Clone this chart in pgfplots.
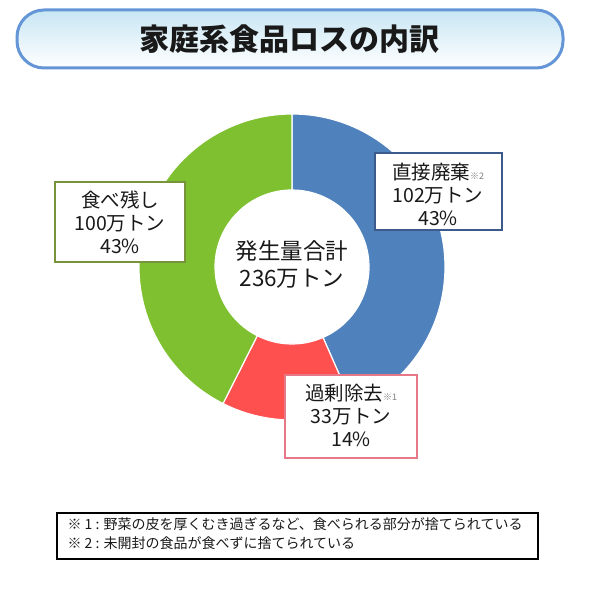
\documentclass[border=0pt]{standalone}
\usepackage{pgfplots}
\pgfplotsset{compat=1.18}
\usepackage{pgfplotstable}
\usepackage{fontspec}
\setmainfont{Noto Sans CJK JP}
\usetikzlibrary{shadings}

\definecolor{cBlue}{RGB}{79,129,189}
\definecolor{cRed}{RGB}{255,80,80}
\definecolor{cGreen}{RGB}{126,192,48}
\definecolor{bBlue}{RGB}{60,90,140}
\definecolor{bPink}{RGB}{232,120,135}
\definecolor{bGreen}{RGB}{119,147,60}
\definecolor{tBorder}{RGB}{100,150,215}
\definecolor{tTop}{RGB}{200,230,244}
\definecolor{txt}{RGB}{25,25,25}

% 直接廃棄, 過剰除去, 食べ残し (万トン)
\pgfplotstableread{
value
102
33
100
}\losstable

% annular sector: start angle, end angle, colour
\newcommand\ring[3]{%
  \fill[#3, draw=white, line width=1.2pt]
    (axis cs:{292+153*cos(#1)},{324+153*sin(#1)})
    arc[start angle=#1, end angle=#2, radius=153pt]
    -- (axis cs:{292+77*cos(#2)},{324+77*sin(#2)})
    arc[start angle=#2, end angle=#1, radius=77pt] -- cycle;}

\begin{document}
\begin{tikzpicture}
\pgfplotstablegetelem{0}{value}\of\losstable \let\va\pgfplotsretval
\pgfplotstablegetelem{1}{value}\of\losstable \let\vb\pgfplotsretval
\pgfplotstablegetelem{2}{value}\of\losstable \let\vc\pgfplotsretval
\pgfmathsetmacro\tot{\va+\vb+\vc}
\pgfmathsetmacro\aA{90}
\pgfmathsetmacro\aB{\aA-360*(\va/\tot)}
\pgfmathsetmacro\aC{\aB-360*(\vb/\tot)}
\pgfmathsetmacro\aD{\aC-360*(\vc/\tot)}
\begin{axis}[
    x=1pt, y=1pt,
    xmin=0, xmax=600, ymin=0, ymax=591,
    disabledatascaling,
    scale only axis,
    hide axis,
    clip=false,
    ]
\addplot[draw=none, forget plot] coordinates {(0,0) (600,591)};
\path (axis cs:0,0) rectangle (axis cs:600,591);

% title
\draw[tBorder, line width=3pt, rounded corners=27pt, top color=tTop, bottom color=white]
  (axis cs:17,523) rectangle (axis cs:563,581);
\node[txt, font=\fontsize{30}{32}\selectfont\bfseries] at (axis cs:289,552) {家庭系食品ロスの内訳};

% donut
\ring{\aA}{\aB}{cBlue}
\ring{\aB}{\aC}{cRed}
\ring{\aC}{\aD}{cGreen}

\node[txt, align=center, font=\fontsize{22.5}{27}\selectfont] at (axis cs:292,327)
  {発生量合計\\236万トン};

% labels
\draw[bBlue, line width=2.5pt, fill=white] (axis cs:375,361) rectangle (axis cs:502,438);
\node[txt, align=center, font=\fontsize{19.5}{23}\selectfont] at (axis cs:438,397)
  {直接廃棄{\fontsize{9}{9}\selectfont\color{gray}※2}\\102万トン\\43\%};

\draw[bPink, line width=2.5pt, fill=white] (axis cs:285,133) rectangle (axis cs:417,216);
\node[txt, align=center, font=\fontsize{19.5}{23}\selectfont] at (axis cs:351,176)
  {過剰除去{\fontsize{9}{9}\selectfont\color{gray}※1}\\33万トン\\14\%};

\draw[bGreen, line width=2.5pt, fill=white] (axis cs:55,329) rectangle (axis cs:185,409);
\node[txt, align=center, font=\fontsize{19.5}{23}\selectfont] at (axis cs:120,369)
  {食べ残し\\100万トン\\43\%};

% footnotes
\draw[black, line width=1.2pt] (axis cs:57,32) rectangle (axis cs:538,78);
\node[txt, anchor=west, align=left, font=\fontsize{14}{19}\selectfont] at (axis cs:64,57)
  {※ 1 : 野菜の皮を厚くむき過ぎるなど、食べられる部分が捨てられている\\※ 2 : 未開封の食品が食べずに捨てられている};
\end{axis}
\end{tikzpicture}
\end{document}
